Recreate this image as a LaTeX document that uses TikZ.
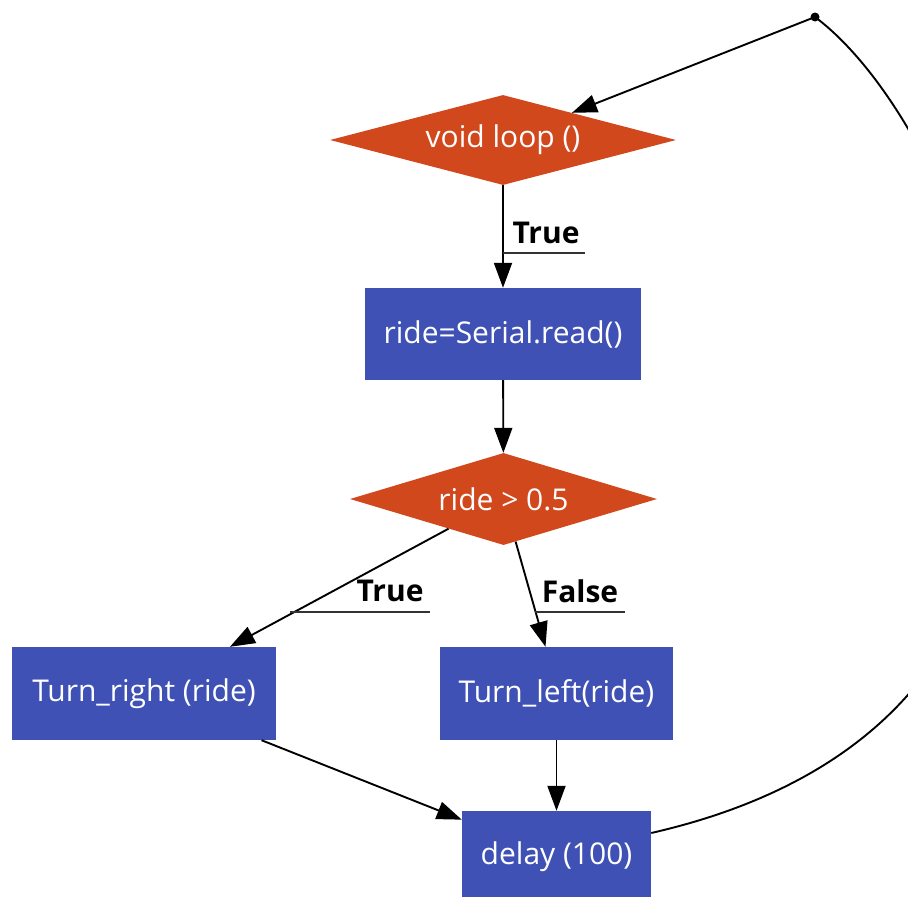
\documentclass[tikz,border=0pt]{standalone}
\usepackage{fontspec}
\setmainfont{Open Sans}
\usetikzlibrary{shapes.geometric,arrows.meta,calc}
\definecolor{dorange}{HTML}{D2481D}
\definecolor{dblue}{HTML}{3F51B5}
\begin{document}
\begin{tikzpicture}[x=1pt,y=-1pt,
  dec/.style={diamond,fill=dorange,text=white,inner sep=0pt,font=\fontsize{30}{36}\selectfont},
  blk/.style={rectangle,fill=dblue,text=white,inner sep=0pt,font=\fontsize{30}{36}\selectfont},
  edge/.style={draw=black,line width=1.9pt,-{Triangle[length=25pt,width=18pt]}},
  lbl/.style={font=\bfseries\fontsize{30}{36}\selectfont,text=black},
  uline/.style={draw=black!80,line width=1.9pt}]
\clip (0,0) rectangle (908,897);
\useasboundingbox (0,0) rectangle (908,897);

\node[dec,aspect=3.84,minimum width=346pt,minimum height=90pt] (d1) at (503,140) {void loop ()};
\node[blk,minimum width=276pt,minimum height=92pt] (sb) at (503,334) {ride=Serial.read()};
\node[dec,aspect=3.34,minimum width=307pt,minimum height=92pt] (d2) at (503.5,499) {ride > 0.5};
\node[blk,minimum width=264pt,minimum height=93pt] (tr) at (144,693.5) {Turn\_right (ride)};
\node[blk,minimum width=233pt,minimum height=93pt] (tl) at (556.5,693.5) {Turn\_left(ride)};
\node[blk,minimum width=189pt,minimum height=92pt] (dl) at (556.5,857) {delay (100)};

\coordinate (dot) at (815,17);
\fill (dot) circle (4.5pt);

% edges
\draw[edge] (dot) -- (d1);
\draw[edge] (d1) -- (sb);
\draw[edge] (sb) -- (d2);
\coordinate (trin) at ($(tr.north)!0.65!(tr.north east)$);
\coordinate (tlin) at ($(tl.north)+(-11,0)$);
\draw[edge] (d2) -- (trin);
\draw[edge] (d2) -- (tlin);
\draw[edge] (tr) -- (dl);
\draw[edge] (tl) -- (dl);
\coordinate (dlout) at ($(dl.east)+(0,-24)$);
\draw[line width=1.9pt] (dlout) .. controls (1190,710) and (980,140) .. (dot);

% labels
\node[lbl] (t1) at (546,233) {True};
\coordinate (u1a) at (503,253);
\coordinate (u1b) at (585,253);
\draw[uline] (u1a) -- (u1b);
\node[lbl] (t2) at (390,591) {True};
\coordinate (u2a) at (290,612);
\coordinate (u2b) at (430,612);
\draw[uline] (u2a) -- (u2b);
\node[lbl] (f1) at (580,591) {False};
\coordinate (u3a) at (535,612);
\coordinate (u3b) at (625,612);
\draw[uline] (u3a) -- (u3b);
\end{tikzpicture}
\end{document}
